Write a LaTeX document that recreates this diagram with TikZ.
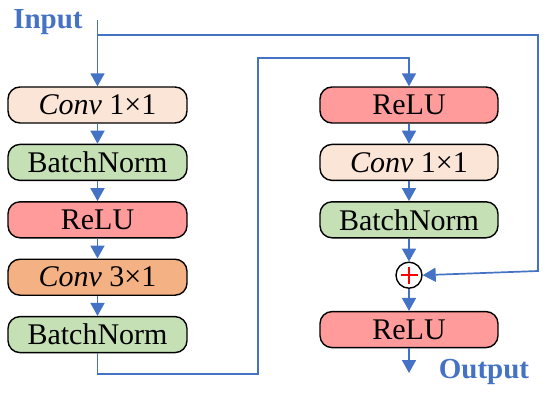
\documentclass[tikz,border=0pt]{standalone}
\usepackage{fontspec}
\setmainfont{Liberation Serif}
\usetikzlibrary{arrows.meta,positioning}
\definecolor{lineblue}{HTML}{4472C4}
\definecolor{convlight}{HTML}{FBE5D6}
\definecolor{convdark}{HTML}{F4B183}
\definecolor{bngreen}{HTML}{C5E0B4}
\definecolor{relured}{HTML}{FF9B9B}
\begin{document}
\begin{tikzpicture}[x=1pt, y=1pt,
  blk/.style={draw, line width=1.4pt, rounded corners=12pt, minimum width=179pt,
              minimum height=36pt, inner sep=0pt, font=\fontsize{30}{36}\selectfont},
  lbl/.style={text=lineblue, font=\fontsize{29}{34}\selectfont\bfseries},
  arr/.style={-{Triangle[length=13pt, width=14pt]}, lineblue, line width=1.7pt},
  node distance=20pt]
\useasboundingbox (0,0) rectangle (550,-400);
% left branch
\node[blk, fill=convlight] (c1) at (97.5,-105) {\textit{Conv} 1×1};
\node[blk, fill=bngreen, below=of c1] (bn1) {BatchNorm};
\node[blk, fill=relured, below=of bn1] (r1) {ReLU};
\node[blk, fill=convdark, below=of r1] (c3) {\textit{Conv} 3×1};
\node[blk, fill=bngreen, below=of c3] (bn2) {BatchNorm};
% right branch
\node[blk, fill=relured, minimum width=178pt] (r2) at (409,-105) {ReLU};
\node[blk, fill=convlight, minimum width=178pt, below=of r2] (c4) {\textit{Conv} 1×1};
\node[blk, fill=bngreen, minimum width=178pt, below=of c4] (bn3) {BatchNorm};
\node[draw, circle, line width=1.4pt, fill=white, minimum size=26pt, inner sep=0pt,
      below=23pt of bn3] (plus) {};
\draw[red, line width=2.4pt] (plus.center) ++(-8.5,0) -- ++(17,0)
  (plus.center) ++(0,-8.5) -- ++(0,17);
\node[blk, fill=relured, minimum width=178pt, below=22pt of plus] (r3) {ReLU};
% labels
\node[lbl] (input) at (48,-22) {Input};
\node[lbl] (output) at (484,-372) {Output};
\coordinate (in) at (97.5,-20);
\coordinate (split) at (97.5,-35);
\coordinate (skip) at (538,-271);
\coordinate (turn) at (258,-58);
\coordinate (out) at (409,-373);
% connectors
\draw[arr] (in) -- (c1);
\draw[arr] (c1) -- (bn1);
\draw[arr] (bn1) -- (r1);
\draw[arr] (r1) -- (c3);
\draw[arr] (c3) -- (bn2);
\draw[arr] (bn2.south) -- ++(0,-21) -| (turn) -| (r2.north);
\draw[arr] (r2) -- (c4);
\draw[arr] (c4) -- (bn3);
\draw[arr] (bn3) -- (plus);
\draw[arr] (plus) -- (r3);
\draw[arr] (r3) -- (out);
\draw[arr] (split) -| (skip) -- (plus.east);
\end{tikzpicture}
\end{document}
